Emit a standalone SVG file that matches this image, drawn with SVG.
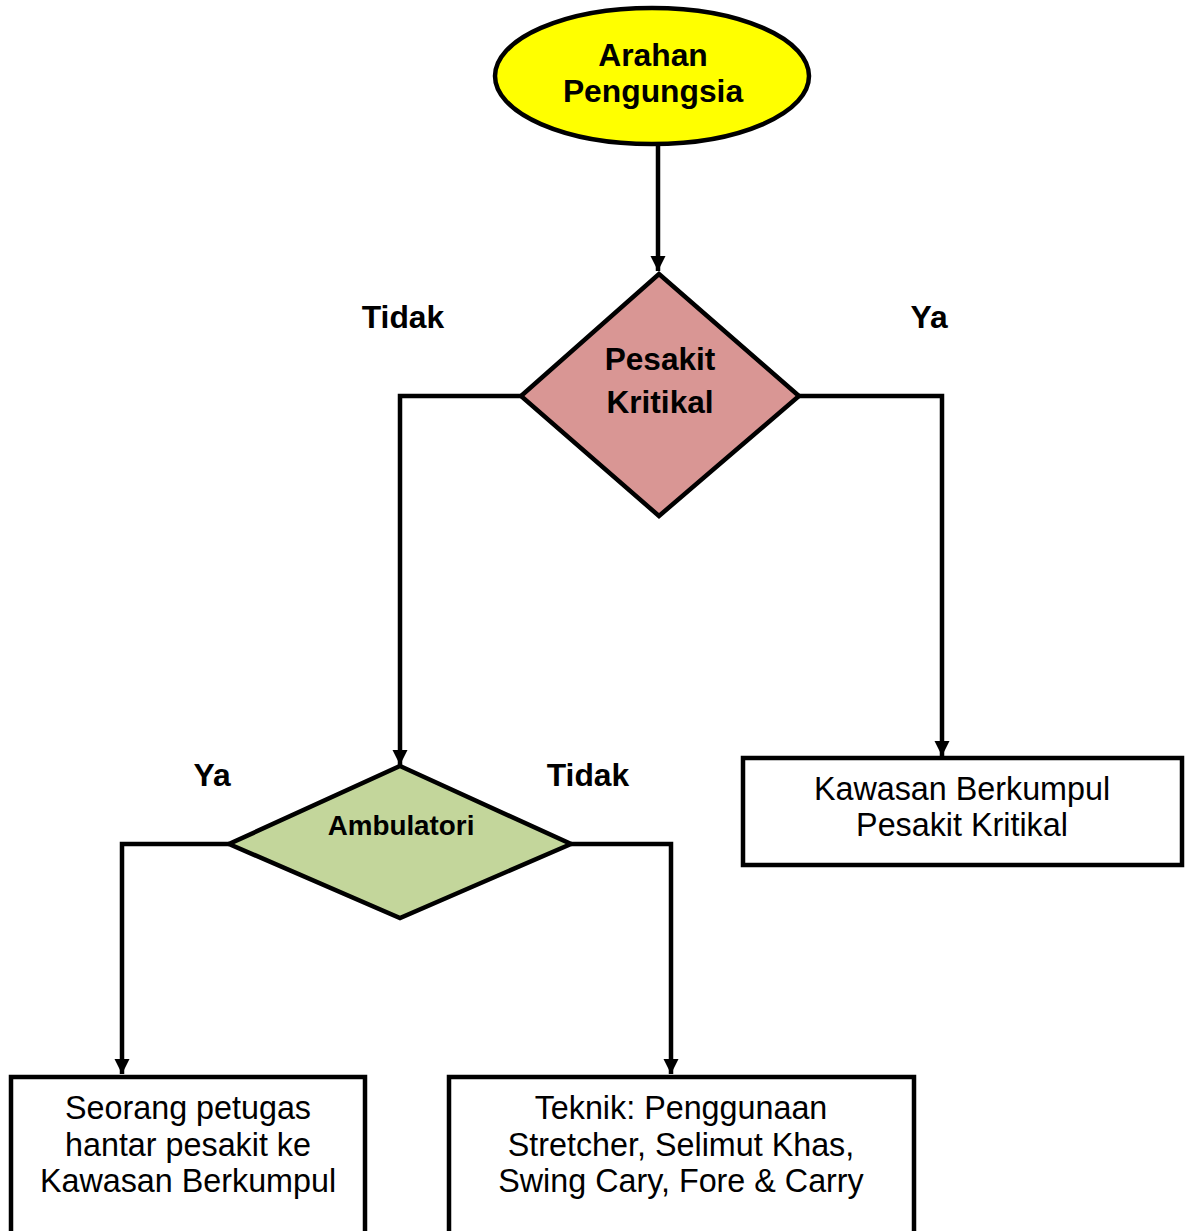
<svg xmlns="http://www.w3.org/2000/svg" width="1190" height="1231" viewBox="0 0 1190 1231">
<defs>
<style>
.shape{stroke:#000;stroke-width:4.5;stroke-linejoin:miter}
.conn{fill:none;stroke:#000;stroke-width:4.5}
.b{font-family:"Liberation Sans",Arial,sans-serif;font-weight:bold;fill:#000;text-anchor:middle}
.r{font-family:"Liberation Sans",Arial,sans-serif;fill:#000;text-anchor:middle;font-size:32.3px}
</style>
<marker id="ah" viewBox="0 0 10 10" refX="10" refY="5" markerWidth="3.4" markerHeight="3.4" orient="auto" markerUnits="strokeWidth">
<path d="M0,0 L10,5 L0,10 z" fill="#000"/>
</marker>
</defs>
<rect width="1190" height="1231" fill="#fff"/>
<g id="connectors">
<path class="conn" d="M658,145 V271" marker-end="url(#ah)"/>
<path class="conn" d="M521,396 H400 V765" marker-end="url(#ah)"/>
<path class="conn" d="M799,396 H942 V756" marker-end="url(#ah)"/>
<path class="conn" d="M229,844 H122 V1074" marker-end="url(#ah)"/>
<path class="conn" d="M571,844 H671 V1074" marker-end="url(#ah)"/>
</g>
<g id="start">
<ellipse class="shape" cx="652" cy="76" rx="157" ry="68" fill="#FFFF00"/>
<text class="b" x="653" y="66" font-size="31.8">Arahan</text>
<text class="b" x="653" y="102" font-size="31.8">Pengungsia</text>
</g>
<g id="kritikal">
<polygon class="shape" points="659,274 799,396 659,516 521,396" fill="#D99694"/>
<text class="b" x="660" y="370" font-size="31.6">Pesakit</text>
<text class="b" x="660" y="413" font-size="31.6">Kritikal</text>
</g>
<g id="ambulatori">
<polygon class="shape" points="400,766 571,844 400,918 229,844" fill="#C3D69B"/>
<text class="b" x="401" y="835" font-size="27.8">Ambulatori</text>
</g>
<g id="labels">
<text class="b" x="403" y="328" font-size="31.8">Tidak</text>
<text class="b" x="929" y="328" font-size="31.8">Ya</text>
<text class="b" x="212" y="786" font-size="31.8">Ya</text>
<text class="b" x="588" y="786" font-size="31.8">Tidak</text>
</g>
<g id="box-kritikal">
<rect class="shape" x="743" y="758" width="439" height="107" fill="#fff"/>
<text class="r" x="962" y="800">Kawasan Berkumpul</text>
<text class="r" x="962" y="836">Pesakit Kritikal</text>
</g>
<g id="box-petugas">
<rect class="shape" x="11" y="1077" width="354" height="170" fill="#fff"/>
<text class="r" x="188" y="1119">Seorang petugas</text>
<text class="r" x="188" y="1156">hantar pesakit ke</text>
<text class="r" x="188" y="1192">Kawasan Berkumpul</text>
</g>
<g id="box-teknik">
<rect class="shape" x="449" y="1077" width="465" height="170" fill="#fff"/>
<text class="r" x="681" y="1119">Teknik: Penggunaan</text>
<text class="r" x="681" y="1156">Stretcher, Selimut Khas,</text>
<text class="r" x="681" y="1192">Swing Cary, Fore &amp; Carry</text>
</g>
</svg>
